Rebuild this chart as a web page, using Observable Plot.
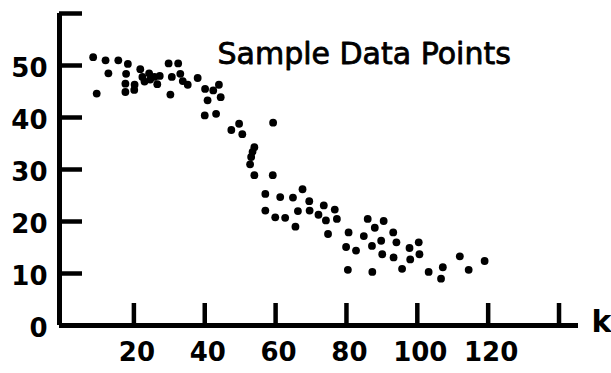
<!DOCTYPE html>
<html><head><meta charset="utf-8">
<script src="https://cdn.jsdelivr.net/npm/d3@7"></script>
<script src="https://cdn.jsdelivr.net/npm/@observablehq/plot@0.6"></script>
<style>html,body{margin:0;padding:0;background:#fff;} svg{display:block}</style>
</head><body><div id="chart"></div>
<script>
// Sample data points (k, value)
const kValues = [
  8.5, 9.5, 12, 12.8, 15.6, 18.3, 17.8, 17.6, 17.6, 20.2, 20.1,
  21.8, 22.4, 23, 24.3, 24.6, 25.8, 26.6, 27.3,
  29.8, 32.5, 30.7, 30.3, 33.1, 33.8, 35.2, 38,
  40.1, 40.8, 40, 43.2, 42.4, 44, 44.5,
  47.5, 49.7, 50.6, 54, 53.5, 53.1, 52.8, 54, 59.2, 59.3,
  57.1, 57.1, 61.3, 59.9, 62.7, 64.9, 65.6, 67.6, 66.3, 69.5, 69.6,
  72.1, 73.6, 74.2, 76.7, 77.3, 74.8, 80.6, 79.9, 82.7, 84.9, 86,
  90.5, 88, 87.2, 89.8, 90.1, 93.2, 94.1, 93.3,
  80.4, 87.3, 95.7, 97.8, 100.4, 98, 100.6, 103.2, 107.2, 106.7,
  112, 114.5, 119
];
const yValues = [
  51.6, 44.6, 51, 48.5, 51, 50.3, 48.4, 46.5, 44.9, 46.3, 45.3,
  49.3, 47.8, 46.9, 48.5, 47.3, 47.8, 46.4, 48,
  50.4, 50.4, 47.8, 44.4, 48.4, 47, 46.3, 47.6,
  45.5, 43.3, 40.4, 40.7, 45.2, 46.3, 43.9,
  37.6, 38.8, 36.8, 34.3, 33.4, 32.4, 31, 28.9, 28.9, 39,
  25.3, 22.1, 24.7, 20.8, 20.7, 24.6, 19, 26.2, 22, 23.9, 22.1,
  21.3, 23.1, 20.2, 22.3, 20.5, 17.6, 17.9, 15.1, 14.4, 17.2, 20.5,
  20.1, 18.8, 15.3, 16.3, 13.7, 17.9, 16, 13.1,
  10.7, 10.3, 10.9, 14.9, 16, 12.7, 13.7, 10.3, 11.2, 9,
  13.3, 10.7, 12.4
];
const xTickValues = [20, 40, 60, 80, 100, 120, 140];
const xTickLabels = [20, 40, 60, 80, 100, 120];
const yTickValues = [10, 20, 30, 40, 50, 60];
const yTickLabels = [0, 10, 20, 30, 40, 50];
const xAxisStart = -1;
const titleText = "Sample Data Points";
const xAxisName = "k";

const points = kValues.map((k, i) => ({k, v: yValues[i]}));

const chart = Plot.plot({
  width: 611, height: 373,
  marginLeft: 59, marginRight: 33, marginTop: 13, marginBottom: 48,
  x: {domain: [xAxisStart, 145.5]},
  y: {domain: [0, 60]},
  style: {background: "white", color: "black", fontFamily: "DejaVu Sans, sans-serif"},
  marks: [
    Plot.ruleY([0], {strokeWidth: 5}),
    Plot.ruleX([xAxisStart], {strokeWidth: 5}),
    Plot.axisX({ticks: xTickValues, tickSize: -22, tickFormat: () => "", strokeWidth: 4.5, label: null}),
    Plot.axisY({ticks: yTickValues, tickSize: -23, tickFormat: () => "", strokeWidth: 4.5, label: null}),
    Plot.axisX({ticks: xTickLabels, tickSize: 0, tickPadding: 17, fontSize: 26, fontWeight: "bold", label: null, dx: 3}),
    Plot.axisY({ticks: yTickLabels, tickSize: 0, tickPadding: 12, fontSize: 26, fontWeight: "bold", label: null, dy: 3}),
    Plot.dot(points, {x: "k", y: "v", r: 3.9, fill: "black"}),
    Plot.text([titleText], {frameAnchor: "top-left", dx: 158, dy: 50, textAnchor: "start", lineAnchor: "bottom",
      fontSize: 30, fontFamily: "DejaVu Sans", fill: "black", stroke: "black", strokeWidth: 0.8}),
    Plot.text([xAxisName], {frameAnchor: "bottom-right", dx: 13, dy: 6, textAnchor: "start", lineAnchor: "bottom",
      fontSize: 30, fontWeight: "bold", fill: "black"})
  ]
});
document.getElementById("chart").append(chart);
</script>
</body></html>
